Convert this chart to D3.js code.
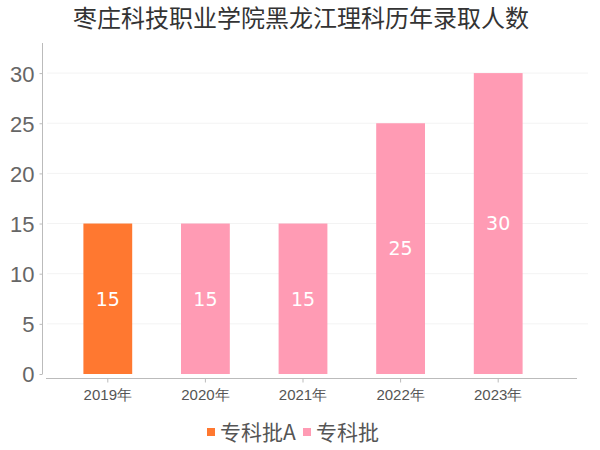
<!DOCTYPE html>
<html>
<head>
<meta charset="utf-8">
<script src="https://cdn.jsdelivr.net/npm/d3@7"></script>
<style>
  body { margin: 0; background: #fff; }
  svg { font-family: "DejaVu Sans", "Noto Sans CJK SC", sans-serif; }
</style>
</head>
<body>
<div id="chart"></div>
<script>
// data
const years = ["2019年", "2020年", "2021年", "2022年", "2023年"];
const counts = [15, 15, 15, 25, 30];
const batches = ["专科批A", "专科批", "专科批", "专科批", "专科批"];
const seriesNames = ["专科批A", "专科批"];
const seriesColors = ["#ff7830", "#ff9bb4"];
const yTicks = [0, 5, 10, 15, 20, 25, 30];

const width = 600, height = 450;

const svg = d3.select("#chart")
  .append("svg")
  .attr("width", width)
  .attr("height", height);

const color = d3.scaleOrdinal().domain(seriesNames).range(seriesColors);

const x = d3.scaleBand()
  .domain(years)
  .range([59, 547])
  .paddingInner(0.5)
  .paddingOuter(0.25);

const y = d3.scaleLinear()
  .domain([0, 33])
  .range([374, 43]);

// title
svg.append("text")
  .attr("x", 301)
  .attr("y", 27)
  .attr("text-anchor", "middle")
  .style("font-family", "'Noto Sans CJK SC', sans-serif")
  .style("font-size", "24px")
  .style("fill", "#333")
  .text("枣庄科技职业学院黑龙江理科历年录取人数");

// grid lines
svg.append("g")
  .selectAll("line")
  .data(yTicks.filter(d => d > 0))
  .enter()
  .append("line")
  .attr("x1", 47)
  .attr("x2", 588)
  .attr("y1", d => y(d))
  .attr("y2", d => y(d))
  .style("stroke", "#f3f3f3")
  .style("stroke-width", 1);

// y axis
const yAxis = svg.append("g")
  .attr("transform", "translate(42.5,0)")
  .call(d3.axisLeft(y).tickValues(yTicks).tickSize(3).tickPadding(5));
yAxis.select(".domain").attr("d", "M0," + y(33) + "V" + y(0)).style("stroke", "#bbb");
yAxis.selectAll(".tick line").style("stroke", "#bbb");
yAxis.selectAll(".tick text")
  .style("font-size", "22px")
  .style("fill", "#666")
  .attr("dy", "0.36em");

// x axis
const xAxis = svg.append("g")
  .attr("transform", "translate(0,378.5)")
  .call(d3.axisBottom(x).tickSize(4).tickPadding(5).tickSizeOuter(0));
xAxis.select(".domain").attr("d", "M46,0H577").style("stroke", "#bbb");
xAxis.selectAll(".tick line").style("stroke", "#bbb");
xAxis.selectAll(".tick text")
  .style("font-size", "15px")
  .style("fill", "#555")
  .attr("dy", "0.85em");

// bars
const rows = years.map((yr, i) => ({year: yr, value: counts[i], batch: batches[i]}));

svg.append("g")
  .selectAll("rect")
  .data(rows)
  .enter()
  .append("rect")
  .attr("x", d => x(d.year))
  .attr("width", x.bandwidth())
  .attr("y", d => y(d.value))
  .attr("height", d => y(0) - y(d.value))
  .style("fill", d => color(d.batch));

// value labels
svg.append("g")
  .selectAll("text")
  .data(rows)
  .enter()
  .append("text")
  .attr("x", d => x(d.year) + x.bandwidth() / 2)
  .attr("y", d => (y(d.value) + y(0)) / 2)
  .attr("dy", "0.36em")
  .attr("text-anchor", "middle")
  .style("font-size", "19px")
  .style("fill", "#fff")
  .text(d => d.value);

// legend
const legend = svg.append("g").attr("transform", "translate(207,432)");
const legendX = [0, 96];
seriesNames.forEach((name, i) => {
  const g = legend.append("g").attr("transform", "translate(" + legendX[i] + ",0)");
  g.append("rect")
    .attr("x", 0)
    .attr("y", -4)
    .attr("width", 8)
    .attr("height", 8)
    .style("fill", seriesColors[i]);
  g.append("text")
    .attr("x", 13)
    .attr("y", 0)
    .attr("dy", "0.36em")
    .style("font-family", "'Noto Sans CJK SC', sans-serif")
    .style("font-size", "21px")
    .style("fill", "#555")
    .text(name);
});
</script>
</body>
</html>
